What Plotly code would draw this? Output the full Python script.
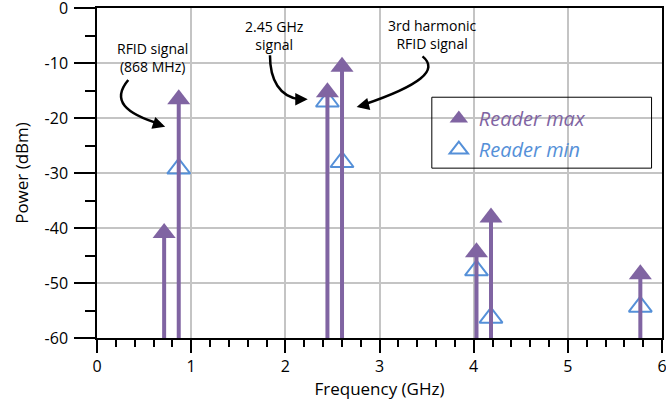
import plotly.graph_objects as go

# ---- data ----
freq_max = [0.713, 0.868, 2.447, 2.602, 4.03, 4.184, 5.77]
power_max = [-40.9, -16.6, -15.3, -10.7, -44.4, -38.1, -48.4]
freq_min = [0.868, 2.447, 2.602, 4.03, 4.184, 5.77]
power_min = [-29.2, -17.0, -28.0, -47.7, -56.3, -54.3]
y_floor = -60
x_range = [0, 6]
y_range = [-60, 0]
x_ticks = [0, 1, 2, 3, 4, 5, 6]
y_ticks = [0, -10, -20, -30, -40, -50, -60]

PURPLE = "#8064A2"
BLUE = "#5590D8"
FONT = "Open Sans"

fig = go.Figure()

fig.add_trace(go.Scatter(
    x=freq_min, y=power_min, mode="markers",
    name=f'<span style="color:{BLUE}"><i>Reader min</i></span>',
    marker=dict(symbol="triangle-up-open", size=20, color=BLUE, line=dict(width=2, color=BLUE)),
    legendrank=2, legendgroup="b",
))
fig.add_trace(go.Scatter(
    x=freq_max, y=power_max, mode="markers",
    name=f'<span style="color:{PURPLE}"><i>Reader max</i></span>',
    marker=dict(symbol="triangle-up", size=20, color=PURPLE),
    error_y=dict(type="data", symmetric=False, array=[0] * len(power_max),
                 arrayminus=[v - y_floor for v in power_max],
                 color=PURPLE, thickness=4, width=0),
    legendrank=1, legendgroup="a",
))

# curved callout arrows
curves = [
    "M 0.332,-13.1 C 0.15,-16.8 0.30,-19.2 0.67,-21.1",
    "M 1.837,-8.6 C 1.836,-13.1 1.942,-16.2 2.154,-16.6",
    "M 3.457,-8.8 C 3.637,-11.3 3.425,-14.1 2.842,-17.5",
]
shapes = [dict(type="path", path=p, xref="x", yref="y", line=dict(color="black", width=2.5)) for p in curves]
# legend frame
shapes.append(dict(type="rect", xref="paper", yref="paper", x0=0.5926, x1=0.9815, y0=0.5147, y1=0.7296,
                   line=dict(color="black", width=1), fillcolor="rgba(0,0,0,0)"))

heads = [
    dict(x=0.724, y=-21.6, ax=-12, ay=-4),
    dict(x=2.238, y=-16.6, ax=-12, ay=0),
    dict(x=2.757, y=-18.0, ax=12, ay=-3),
]
annotations = [dict(x=h["x"], y=h["y"], ax=h["ax"], ay=h["ay"], xref="x", yref="y", text="",
                    showarrow=True, arrowhead=2, arrowsize=1, arrowwidth=2.5, arrowcolor="black")
               for h in heads]
labels = [
    ("RFID signal<br>(868 MHz)", 0.589, -9.05),
    ("2.45 GHz<br>signal", 1.89, -5.05),
    ("3rd harmonic<br>RFID signal", 3.563, -4.87),
]
for t, x, y in labels:
    annotations.append(dict(x=x, y=y, xref="x", yref="y", text=t, showarrow=False,
                            font=dict(family=FONT, size=14, color="black"), align="center"))

fig.update_layout(
    width=666, height=407,
    margin=dict(l=97, r=4, t=8, b=69),
    paper_bgcolor="white", plot_bgcolor="white",
    font=dict(family=FONT, size=15, color="black"),
    shapes=shapes, annotations=annotations,
    showlegend=True,
    legend=dict(x=0.605, y=0.724, xanchor="left", yanchor="top",
                bgcolor="rgba(0,0,0,0)", borderwidth=0,
                font=dict(family=FONT, size=20), tracegroupgap=2),
    xaxis=dict(range=x_range, tickvals=x_ticks, ticktext=[str(v) for v in x_ticks],
               showgrid=True, gridcolor="#C4C4C4", gridwidth=1.5,
               showline=True, linecolor="black", linewidth=1.5, mirror=True,
               ticks="outside", ticklen=13, tickcolor="black", tickwidth=1.5,
               minor=dict(dtick=0.2, ticks="outside", ticklen=7, tickcolor="black", tickwidth=1.5, showgrid=False),
               zeroline=False, automargin=False, ticklabeloverflow="allow", ticklabelstandoff=0,
               title=dict(text="Frequency (GHz)", font=dict(size=17), standoff=4),
               tickfont=dict(size=16)),
    yaxis=dict(range=y_range, tickvals=y_ticks, ticktext=[str(v) for v in y_ticks],
               showgrid=True, gridcolor="#C4C4C4", gridwidth=1.5,
               showline=True, linecolor="black", linewidth=1.5, mirror=True,
               ticks="outside", ticklen=21, tickcolor="black", tickwidth=1.5,
               minor=dict(dtick=5, ticks="outside", ticklen=10, tickcolor="black", tickwidth=1.5, showgrid=False),
               zeroline=False, automargin=False, ticklabeloverflow="allow", ticklabelstandoff=3,
               title=dict(text="Power (dBm)", font=dict(size=17), standoff=12),
               tickfont=dict(size=16)),
)

fig.write_html("out.html", config={"displayModeBar": False},
               post_script="document.body.style.margin='0';document.body.style.overflow='hidden';")
